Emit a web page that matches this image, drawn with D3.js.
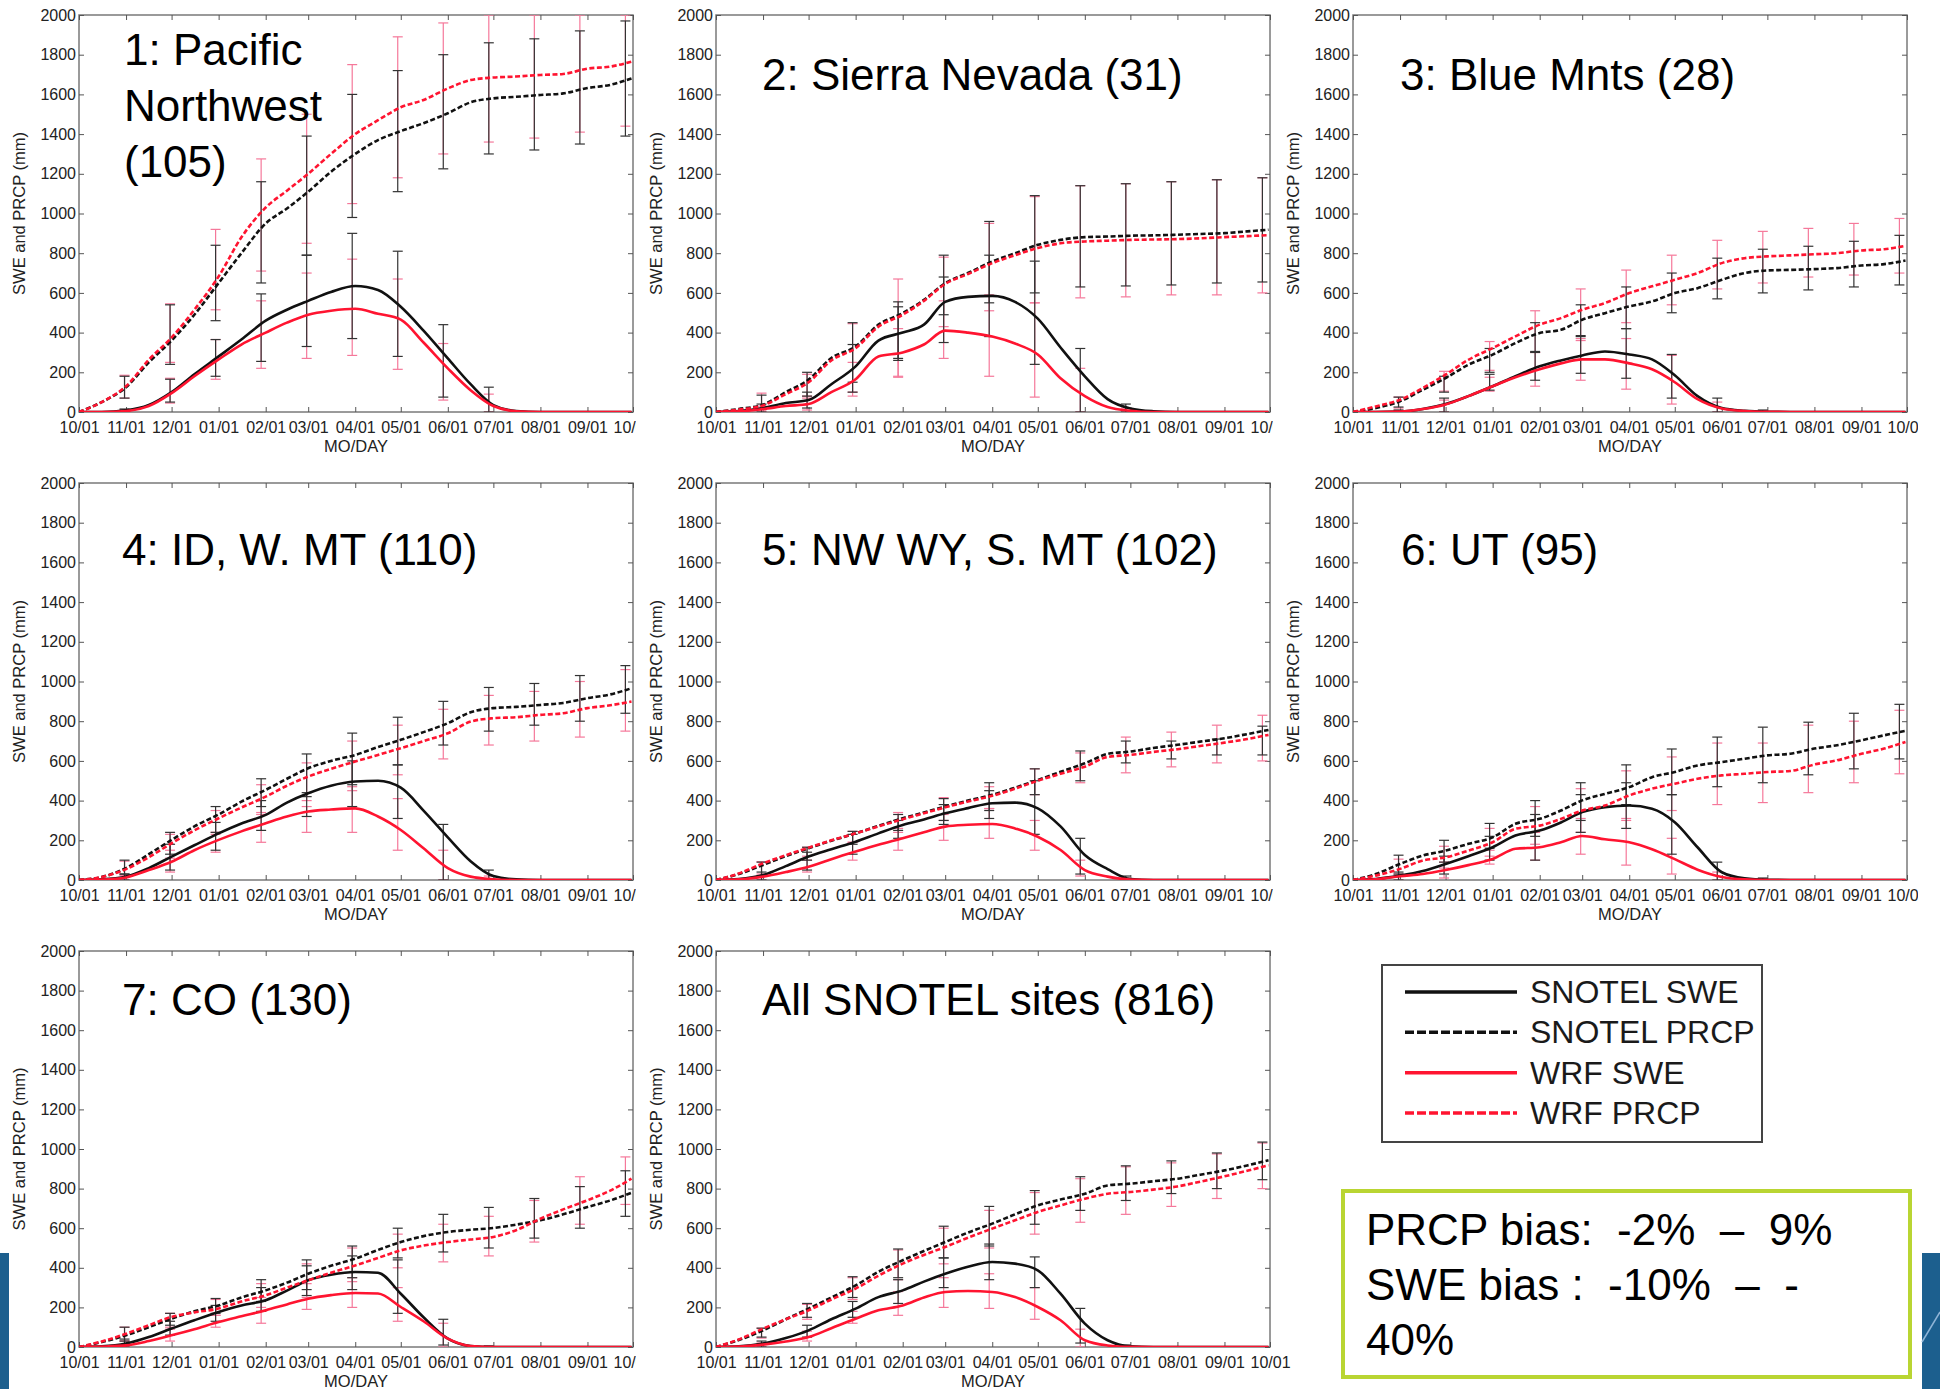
<!DOCTYPE html>
<html>
<head>
<meta charset="utf-8">
<script src="https://cdn.jsdelivr.net/npm/d3@7"></script>
<style>
body{margin:0;background:#fff;}
svg{display:block;font-family:"Liberation Sans",Arial,Helvetica,sans-serif;}
.pre{white-space:pre;}
</style>
</head>
<body>
<div id="chart"></div>
<script>
//panel titles, first one is split over three lines
const TITLES = [["1: Pacific","Northwest","(105)"],["2: Sierra Nevada (31)"],["3: Blue Mnts (28)"],
    ["4: ID, W. MT (110)"],["5: NW WY, S. MT (102)"],["6: UT (95)"],["7: CO (130)"],["All SNOTEL sites (816)"]];

//x axis
const TICK_LABELS = ["10/01","11/01","12/01","01/01","02/01","03/01","04/01","05/01","06/01","07/01","08/01","09/01","10/01"];
const Y_TICKS = [0,200,400,600,800,1000,1200,1400,1600,1800,2000];

//days the curves were read at
const SAMPLE_DATES = ["10/01","10/16","11/01","11/16","12/01","12/16","01/01","01/16","02/01","02/15","03/01","03/16",
    "04/01","04/16","05/01","05/16","06/01","06/16","07/01","07/16","08/01","08/16","09/01","09/16","09/30"];
//days the error bars sit at (every 30 days)
const ERR_DATES = ["10/31","11/30","12/30","01/29","02/28","03/30","04/29","05/29","06/28","07/28","08/27","09/26"];

//one row per panel (mm)
const SNOTEL_PRCP = [
    [0,50,125,250,360,490,650,800,950,1025,1110,1210,1300,1370,1415,1455,1505,1560,1580,1588,1597,1605,1632,1648,1680],
    [0,15,37,100,163,272,330,440,498,565,649,700,758,800,842,867,881,884,888,890,893,897,901,910,918],
    [0,20,54,112,171,238,289,347,398,414,465,498,532,557,599,624,666,700,713,716,720,725,738,745,763],
    [0,15,60,130,202,270,330,395,454,510,563,600,630,670,706,745,790,845,866,872,882,892,916,935,966],
    [0,30,76,120,160,198,235,273,311,340,370,400,429,465,504,545,588,635,647,665,681,697,714,735,756],
    [0,30,81,123,148,182,215,283,308,350,401,434,468,518,544,577,594,611,628,636,662,679,704,729,751],
    [0,25,59,100,143,180,210,250,286,325,370,410,446,490,530,560,581,592,601,618,640,670,707,740,779],
    [0,35,84,140,194,250,311,380,438,485,530,578,623,670,715,745,774,816,825,837,850,870,892,917,943]
];
const WRF_PRCP = [
    [0,50,130,263,375,515,683,880,1030,1115,1200,1300,1400,1470,1535,1572,1630,1672,1685,1690,1698,1703,1730,1740,1765],
    [0,12,33,90,150,260,322,430,490,560,645,695,750,790,826,850,859,863,867,869,871,875,881,886,891],
    [0,28,62,121,188,263,322,381,440,473,515,549,599,633,666,700,750,775,784,789,795,800,814,820,837],
    [0,15,55,115,185,250,311,365,420,475,521,560,597,630,664,700,739,798,815,820,832,840,866,880,899],
    [0,33,84,125,163,200,235,270,306,336,366,395,424,460,500,535,571,620,630,645,659,675,692,710,731],
    [0,22,56,98,114,148,190,258,274,308,350,375,426,460,485,510,527,535,544,549,582,603,636,662,695],
    [0,28,67,110,152,175,194,230,261,300,337,375,412,450,488,512,530,543,556,590,648,695,741,790,850],
    [0,38,93,140,185,240,295,360,421,465,505,552,598,640,682,715,749,774,783,795,811,835,862,890,918]
];
const SNOTEL_SWE = [
    [0,0,8,35,100,190,280,365,460,515,560,605,635,615,530,410,270,140,35,5,0,0,0,0,0],
    [0,5,20,45,60,140,230,360,400,440,555,580,585,555,470,325,180,65,18,4,0,0,0,0,0],
    [0,0,2,15,40,80,130,180,230,260,285,305,290,265,185,80,20,6,1,0,0,0,0,0,0],
    [0,3,17,60,118,175,235,285,328,390,437,475,496,500,465,350,215,95,20,3,0,0,0,0,0],
    [0,5,25,70,118,155,193,235,277,305,336,362,387,390,361,270,126,55,5,0,0,0,0,0,0],
    [0,5,22,45,81,120,165,224,249,290,342,367,375,359,291,165,39,8,1,0,0,0,0,0,0],
    [0,3,17,50,93,135,177,210,236,285,337,365,379,375,269,150,42,5,0,0,0,0,0,0,0],
    [0,3,17,45,84,140,194,252,286,330,370,405,429,421,387,269,118,34,3,0,0,0,0,0,0]
];
const WRF_SWE = [
    [0,0,5,30,95,180,265,340,400,450,490,510,520,495,465,350,220,110,30,4,0,0,0,0,0],
    [0,3,15,30,40,100,165,280,300,340,410,400,380,345,290,170,80,25,6,0,0,0,0,0,0],
    [0,0,2,15,38,80,130,175,215,245,265,265,245,215,150,65,18,5,1,0,0,0,0,0,0],
    [0,2,13,50,92,150,202,245,286,320,345,355,361,320,252,160,60,17,4,0,0,0,0,0,0],
    [0,3,17,40,67,105,143,177,210,240,269,278,282,260,218,151,50,17,2,0,0,0,0,0,0],
    [0,4,19,30,50,75,106,157,165,190,222,205,190,155,105,52,15,3,0,0,0,0,0,0,0],
    [0,2,8,30,59,90,126,155,185,215,244,262,273,270,202,130,42,5,0,0,0,0,0,0,0],
    [0,2,12,28,50,95,143,185,210,250,278,283,278,252,202,135,34,8,1,0,0,0,0,0,0]
];

//error bars [low, high] at ERR_DATES, one row per panel
const SNOTEL_PRCP_ERR = [
    [[70,180],[240,540],[460,840],[650,1160],[790,1390],[980,1600],[1110,1720],[1225,1800],[1300,1860],[1320,1880],[1350,1920],[1390,1970]],
    [[15,85],[80,200],[150,450],[260,555],[490,790],[550,960],[600,1090],[630,1140],[635,1150],[640,1160],[650,1170],[655,1180]],
    [[25,75],[100,180],[200,320],[300,450],[380,540],[420,630],[500,700],[570,775],[600,820],[615,835],[630,860],[640,890]],
    [[30,100],[130,240],[240,370],[370,510],[420,635],[480,740],[580,820],[680,900],[750,970],[780,990],[800,1030],[840,1080]],
    [[20,90],[100,165],[180,245],[250,330],[300,410],[350,490],[430,560],[500,650],[590,700],[610,700],[630,710],[630,775]],
    [[30,125],[90,200],[160,285],[220,400],[300,490],[380,580],[430,660],[470,720],[490,770],[530,795],[560,840],[610,885]],
    [[30,100],[110,170],[170,245],[230,340],[290,440],[350,510],[450,600],[480,670],[500,705],[550,750],[600,810],[660,890]],
    [[50,95],[150,220],[250,355],[350,495],[450,610],[510,710],[620,790],[690,860],[740,915],[775,940],[800,980],[845,1035]]
];
const WRF_PRCP_ERR = [
    [[70,185],[250,545],[515,920],[710,1275],[850,1500],[1050,1750],[1180,1890],[1300,1960],[1360,2000],[1380,2000],[1410,2000],[1440,2000]],
    [[10,95],[70,190],[100,445],[175,670],[430,780],[510,950],[550,1085],[575,1140],[580,1150],[590,1160],[590,1170],[600,1180]],
    [[20,75],[105,205],[210,355],[300,510],[360,620],[450,715],[540,790],[620,865],[650,910],[680,925],[690,950],[700,975]],
    [[25,95],[110,230],[230,350],[340,480],[400,590],[450,700],[530,780],[610,860],[680,930],[700,950],[720,1000],[750,1060]],
    [[20,92],[100,165],[190,245],[240,340],[300,415],[360,470],[430,560],[490,640],[540,720],[570,745],[590,780],[600,830]],
    [[20,105],[60,170],[120,260],[180,370],[240,460],[310,550],[350,620],[380,690],[390,690],[440,780],[490,800],[535,855]],
    [[30,100],[100,170],[160,240],[200,320],[250,420],[330,500],[400,570],[430,620],[460,660],[530,740],[620,860],[720,960]],
    [[45,95],[140,215],[240,350],[340,490],[420,600],[500,690],[570,780],[630,850],[670,910],[710,930],[750,975],[800,1030]]
];
const SNOTEL_SWE_ERR = [
    [[0,15],[50,165],[180,365],[255,595],[330,790],[370,900],[280,810],[75,440],[0,125],[0,0],[0,0],[0,0]],
    [[0,40],[20,100],[100,340],[270,530],[350,680],[380,790],[240,760],[0,320],[0,40],[0,0],[0,0],[0,0]],
    [[0,10],[0,70],[110,190],[160,305],[195,385],[170,420],[70,290],[0,70],[0,10],[0,0],[0,0],[0,0]],
    [[0,30],[50,180],[150,290],[250,400],[320,440],[370,600],[310,580],[0,280],[0,50],[0,0],[0,0],[0,0]],
    [[0,40],[50,140],[130,230],[210,300],[280,380],[310,450],[230,500],[30,210],[0,20],[0,0],[0,0],[0,0]],
    [[0,40],[30,120],[100,220],[100,330],[240,430],[260,490],[130,430],[0,90],[0,10],[0,0],[0,0],[0,0]],
    [[0,40],[60,130],[130,210],[180,300],[260,410],[290,460],[170,440],[10,140],[0,5],[0,0],[0,0],[0,0]],
    [[0,30],[50,110],[150,230],[220,340],[300,450],[340,520],[300,455],[20,195],[0,10],[0,0],[0,0],[0,0]]
];
const WRF_SWE_ERR = [
    [[0,12],[45,170],[165,365],[220,560],[270,700],[285,770],[215,670],[60,345],[0,90],[0,0],[0,0],[0,0]],
    [[0,30],[10,80],[80,250],[180,420],[270,560],[180,590],[75,550],[0,220],[0,20],[0,0],[0,0],[0,0]],
    [[0,8],[0,60],[105,175],[130,300],[160,370],[115,370],[40,285],[0,50],[0,5],[0,0],[0,0],[0,0]],
    [[0,25],[40,150],[140,240],[190,330],[240,370],[240,470],[150,410],[0,150],[0,20],[0,0],[0,0],[0,0]],
    [[0,30],[40,120],[100,190],[150,260],[200,330],[210,360],[150,300],[20,100],[0,10],[0,0],[0,0],[0,0]],
    [[0,30],[10,90],[80,150],[100,240],[130,310],[75,300],[30,210],[0,40],[0,5],[0,0],[0,0],[0,0]],
    [[0,30],[30,90],[100,160],[120,250],[190,320],[200,350],[130,300],[0,120],[0,5],[0,0],[0,0],[0,0]],
    [[0,20],[30,80],[120,180],[160,280],[200,350],[195,370],[140,300],[0,90],[0,5],[0,0],[0,0],[0,0]]
];

const LEGEND_LABELS = ["SNOTEL SWE","SNOTEL PRCP","WRF SWE","WRF PRCP"];
const BIAS_LINES = ["PRCP bias:  -2%  \u2013  9%","SWE bias :  -10%  \u2013  -","40%"];

//layout of the panels (plot box, title anchor, right edge where the tick labels get cut)
const LAYOUT = [
    {x0:79, x1:633, y0:15, y1:412, tx:124, ty:65, clip:636},
    {x0:716, x1:1270, y0:15, y1:412, tx:762, ty:90, clip:1273},
    {x0:1353, x1:1907, y0:15, y1:412, tx:1400, ty:90, clip:1918},
    {x0:79, x1:633, y0:483, y1:880, tx:122, ty:565, clip:636},
    {x0:716, x1:1270, y0:483, y1:880, tx:762, ty:565, clip:1273},
    {x0:1353, x1:1907, y0:483, y1:880, tx:1401, ty:565, clip:1918},
    {x0:79, x1:633, y0:951, y1:1347, tx:122, ty:1015, clip:636},
    {x0:716, x1:1270, y0:951, y1:1347, tx:762, ty:1015, clip:1300}
];

const STYLE = {
    BLACK:'#111',
    RED:'#ff1430',
    PINK:'#f5789a',
    ERR_BLACK:'#333',
    AXIS:'#555',
    LABEL:'#222',
    TICK_FONT:'16px',
    DASH:'5 2.5'
};

//turns MM/DD strings into dates of one water year
function parseWaterYear(list){
    let year = 2005, prev = 0;
    return list.map(s=>{
        let m = +s.slice(0,2), d = +s.slice(3,5);
        if(m < prev){ year++; }
        prev = m;
        return new Date(Date.UTC(year, m - 1, d));
    });
}

const TICK_DATES = parseWaterYear(TICK_LABELS);
const SAMPLE_D = parseWaterYear(SAMPLE_DATES);
const ERR_D = parseWaterYear(ERR_DATES);

const svg = d3.select('#chart').append('svg').attr('width',1940).attr('height',1389);
const defs = svg.append('defs');

//slide decorations in the corners
svg.append('rect').attr('x',0).attr('y',1253).attr('width',9).attr('height',136).attr('fill','#1c5f8e');
svg.append('rect').attr('x',1922).attr('y',1253).attr('width',18).attr('height',136).attr('fill','#1c5f8e');
svg.append('line').attr('x1',1922).attr('y1',1342).attr('x2',1940).attr('y2',1312).attr('stroke','#8fb4d6').attr('stroke-width',1.5);

function drawPanel(i){
    let box = LAYOUT[i];
    let x = d3.scaleUtc().domain([TICK_DATES[0], TICK_DATES[TICK_DATES.length-1]]).range([box.x0, box.x1]);
    let y = d3.scaleLinear().domain([0,2000]).range([box.y1, box.y0]);
    let g = svg.append('g').attr('class','panel');

    defs.append('clipPath').attr('id','plot'+i)
        .append('rect').attr('x',box.x0).attr('y',box.y0).attr('width',box.x1-box.x0).attr('height',box.y1-box.y0);
    defs.append('clipPath').attr('id','xcut'+i)
        .append('rect').attr('x',0).attr('y',0).attr('width',box.clip).attr('height',1389);

    //frame
    g.append('rect').attr('x',box.x0).attr('y',box.y0).attr('width',box.x1-box.x0).attr('height',box.y1-box.y0)
        .attr('fill','none').attr('stroke','#7a7a7a').attr('stroke-width',1.5);

    //axes, ticks pointing inwards
    let xAxis = d3.axisBottom(x).tickValues(TICK_DATES).tickFormat((d,j)=>TICK_LABELS[j])
        .tickSizeInner(-5).tickSizeOuter(0).tickPadding(10);
    let yAxis = d3.axisLeft(y).tickValues(Y_TICKS).tickFormat(d3.format('d'))
        .tickSizeInner(-5).tickSizeOuter(0).tickPadding(3);
    let topAxis = d3.axisTop(x).tickValues(TICK_DATES).tickFormat('').tickSizeInner(-5).tickSizeOuter(0);
    let rightAxis = d3.axisRight(y).tickValues(Y_TICKS).tickFormat('').tickSizeInner(-5).tickSizeOuter(0);

    let styleAxis = a=>{
        a.select('.domain').remove();
        a.attr('font-size',null).attr('font-family',null);
        a.selectAll('line').attr('stroke',STYLE.AXIS);
        a.selectAll('text').attr('fill',STYLE.LABEL).style('font-size',STYLE.TICK_FONT);
    };

    g.append('g').attr('clip-path','url(#xcut'+i+')')
        .append('g').attr('transform','translate(0,'+box.y1+')').call(xAxis).call(styleAxis);
    g.append('g').attr('transform','translate('+box.x0+',0)').call(yAxis).call(styleAxis);
    g.append('g').attr('transform','translate(0,'+box.y0+')').call(topAxis).call(styleAxis);
    g.append('g').attr('transform','translate('+box.x1+',0)').call(rightAxis).call(styleAxis);

    //axis titles
    g.append('text').attr('x',(box.x0+box.x1)/2).attr('y',box.y1+40).attr('text-anchor','middle')
        .attr('fill',STYLE.LABEL).style('font-size','16.5px').text('MO/DAY');
    g.append('text').attr('transform','translate('+(box.x0-60)+','+((box.y0+box.y1)/2)+') rotate(-90)')
        .attr('text-anchor','middle').attr('dy','0.35em').attr('fill',STYLE.LABEL).style('font-size','16.5px')
        .text('SWE and PRCP (mm)');

    let plot = g.append('g').attr('clip-path','url(#plot'+i+')');

    //error bars, WRF first then SNOTEL
    drawErrors(plot, x, y, WRF_PRCP_ERR[i], STYLE.PINK);
    drawErrors(plot, x, y, WRF_SWE_ERR[i], STYLE.PINK);
    drawErrors(plot, x, y, SNOTEL_PRCP_ERR[i], STYLE.ERR_BLACK);
    drawErrors(plot, x, y, SNOTEL_SWE_ERR[i], STYLE.ERR_BLACK);

    //the four curves
    let line = d3.line().x((d,j)=>x(SAMPLE_D[j])).y(d=>y(d)).curve(d3.curveMonotoneX);
    let series = [
        {v:SNOTEL_PRCP[i], color:STYLE.BLACK, dash:STYLE.DASH},
        {v:SNOTEL_SWE[i], color:STYLE.BLACK, dash:null},
        {v:WRF_PRCP[i], color:STYLE.RED, dash:STYLE.DASH},
        {v:WRF_SWE[i], color:STYLE.RED, dash:null}
    ];
    plot.selectAll('path.curve').data(series).enter().append('path')
        .attr('class','curve')
        .attr('d',d=>line(d.v))
        .attr('fill','none')
        .attr('stroke',d=>d.color)
        .attr('stroke-width',2.6)
        .attr('stroke-dasharray',d=>d.dash);

    //title
    g.append('text').attr('x',box.tx).attr('y',box.ty).style('font-size','44px').attr('fill','#000')
        .selectAll('tspan').data(TITLES[i]).enter().append('tspan')
        .attr('x',box.tx).attr('dy',(d,j)=>j ? 56 : 0).text(d=>d);
}

//vertical bar with a cap at each end
function drawErrors(g, x, y, ranges, color){
    let bars = ranges.map((r,j)=>({cx:x(ERR_D[j]), lo:y(r[0]), hi:y(r[1])})).filter(b=>Math.abs(b.lo-b.hi) > 0.5);
    let eg = g.append('g').attr('stroke',color).attr('stroke-width',1.2);
    eg.selectAll('line.v').data(bars).enter().append('line').attr('class','v')
        .attr('x1',d=>d.cx).attr('x2',d=>d.cx).attr('y1',d=>d.lo).attr('y2',d=>d.hi);
    eg.selectAll('line.lo').data(bars).enter().append('line').attr('class','lo')
        .attr('x1',d=>d.cx-5).attr('x2',d=>d.cx+5).attr('y1',d=>d.lo).attr('y2',d=>d.lo);
    eg.selectAll('line.hi').data(bars).enter().append('line').attr('class','hi')
        .attr('x1',d=>d.cx-5).attr('x2',d=>d.cx+5).attr('y1',d=>d.hi).attr('y2',d=>d.hi);
}

//legend box
function drawLegend(){
    let lg = svg.append('g').attr('id','legend');
    lg.append('rect').attr('x',1382).attr('y',965).attr('width',380).attr('height',177)
        .attr('fill','#fff').attr('stroke','#444').attr('stroke-width',2);
    let rowY = d3.scalePoint().domain(LEGEND_LABELS).range([992,1113]);
    let styles = [[STYLE.BLACK,null],[STYLE.BLACK,'9 3'],[STYLE.RED,null],[STYLE.RED,'9 3']];
    LEGEND_LABELS.forEach((lab,k)=>{
        lg.append('line').attr('x1',1405).attr('x2',1517).attr('y1',rowY(lab)).attr('y2',rowY(lab))
            .attr('stroke',styles[k][0]).attr('stroke-width',3.5).attr('stroke-dasharray',styles[k][1]);
        lg.append('text').attr('x',1530).attr('y',rowY(lab)+11).style('font-size','32px').attr('fill','#1a1a1a').text(lab);
    });
}

//bias note in the green box
function drawBias(){
    let bg = svg.append('g').attr('id','bias');
    bg.append('rect').attr('x',1343).attr('y',1191).attr('width',567).attr('height',186)
        .attr('fill','#fff').attr('stroke','#b9d532').attr('stroke-width',4);
    bg.selectAll('text').data(BIAS_LINES).enter().append('text')
        .attr('class','pre')
        .attr('x',1366).attr('y',(d,k)=>1245 + k*55)
        .style('font-size','44px').attr('fill','#000').text(d=>d);
}

function main(){
    for(let i = 0; i < LAYOUT.length; i++){
        drawPanel(i);
    }
    drawLegend();
    drawBias();
}

main();
</script>
</body>
</html>
